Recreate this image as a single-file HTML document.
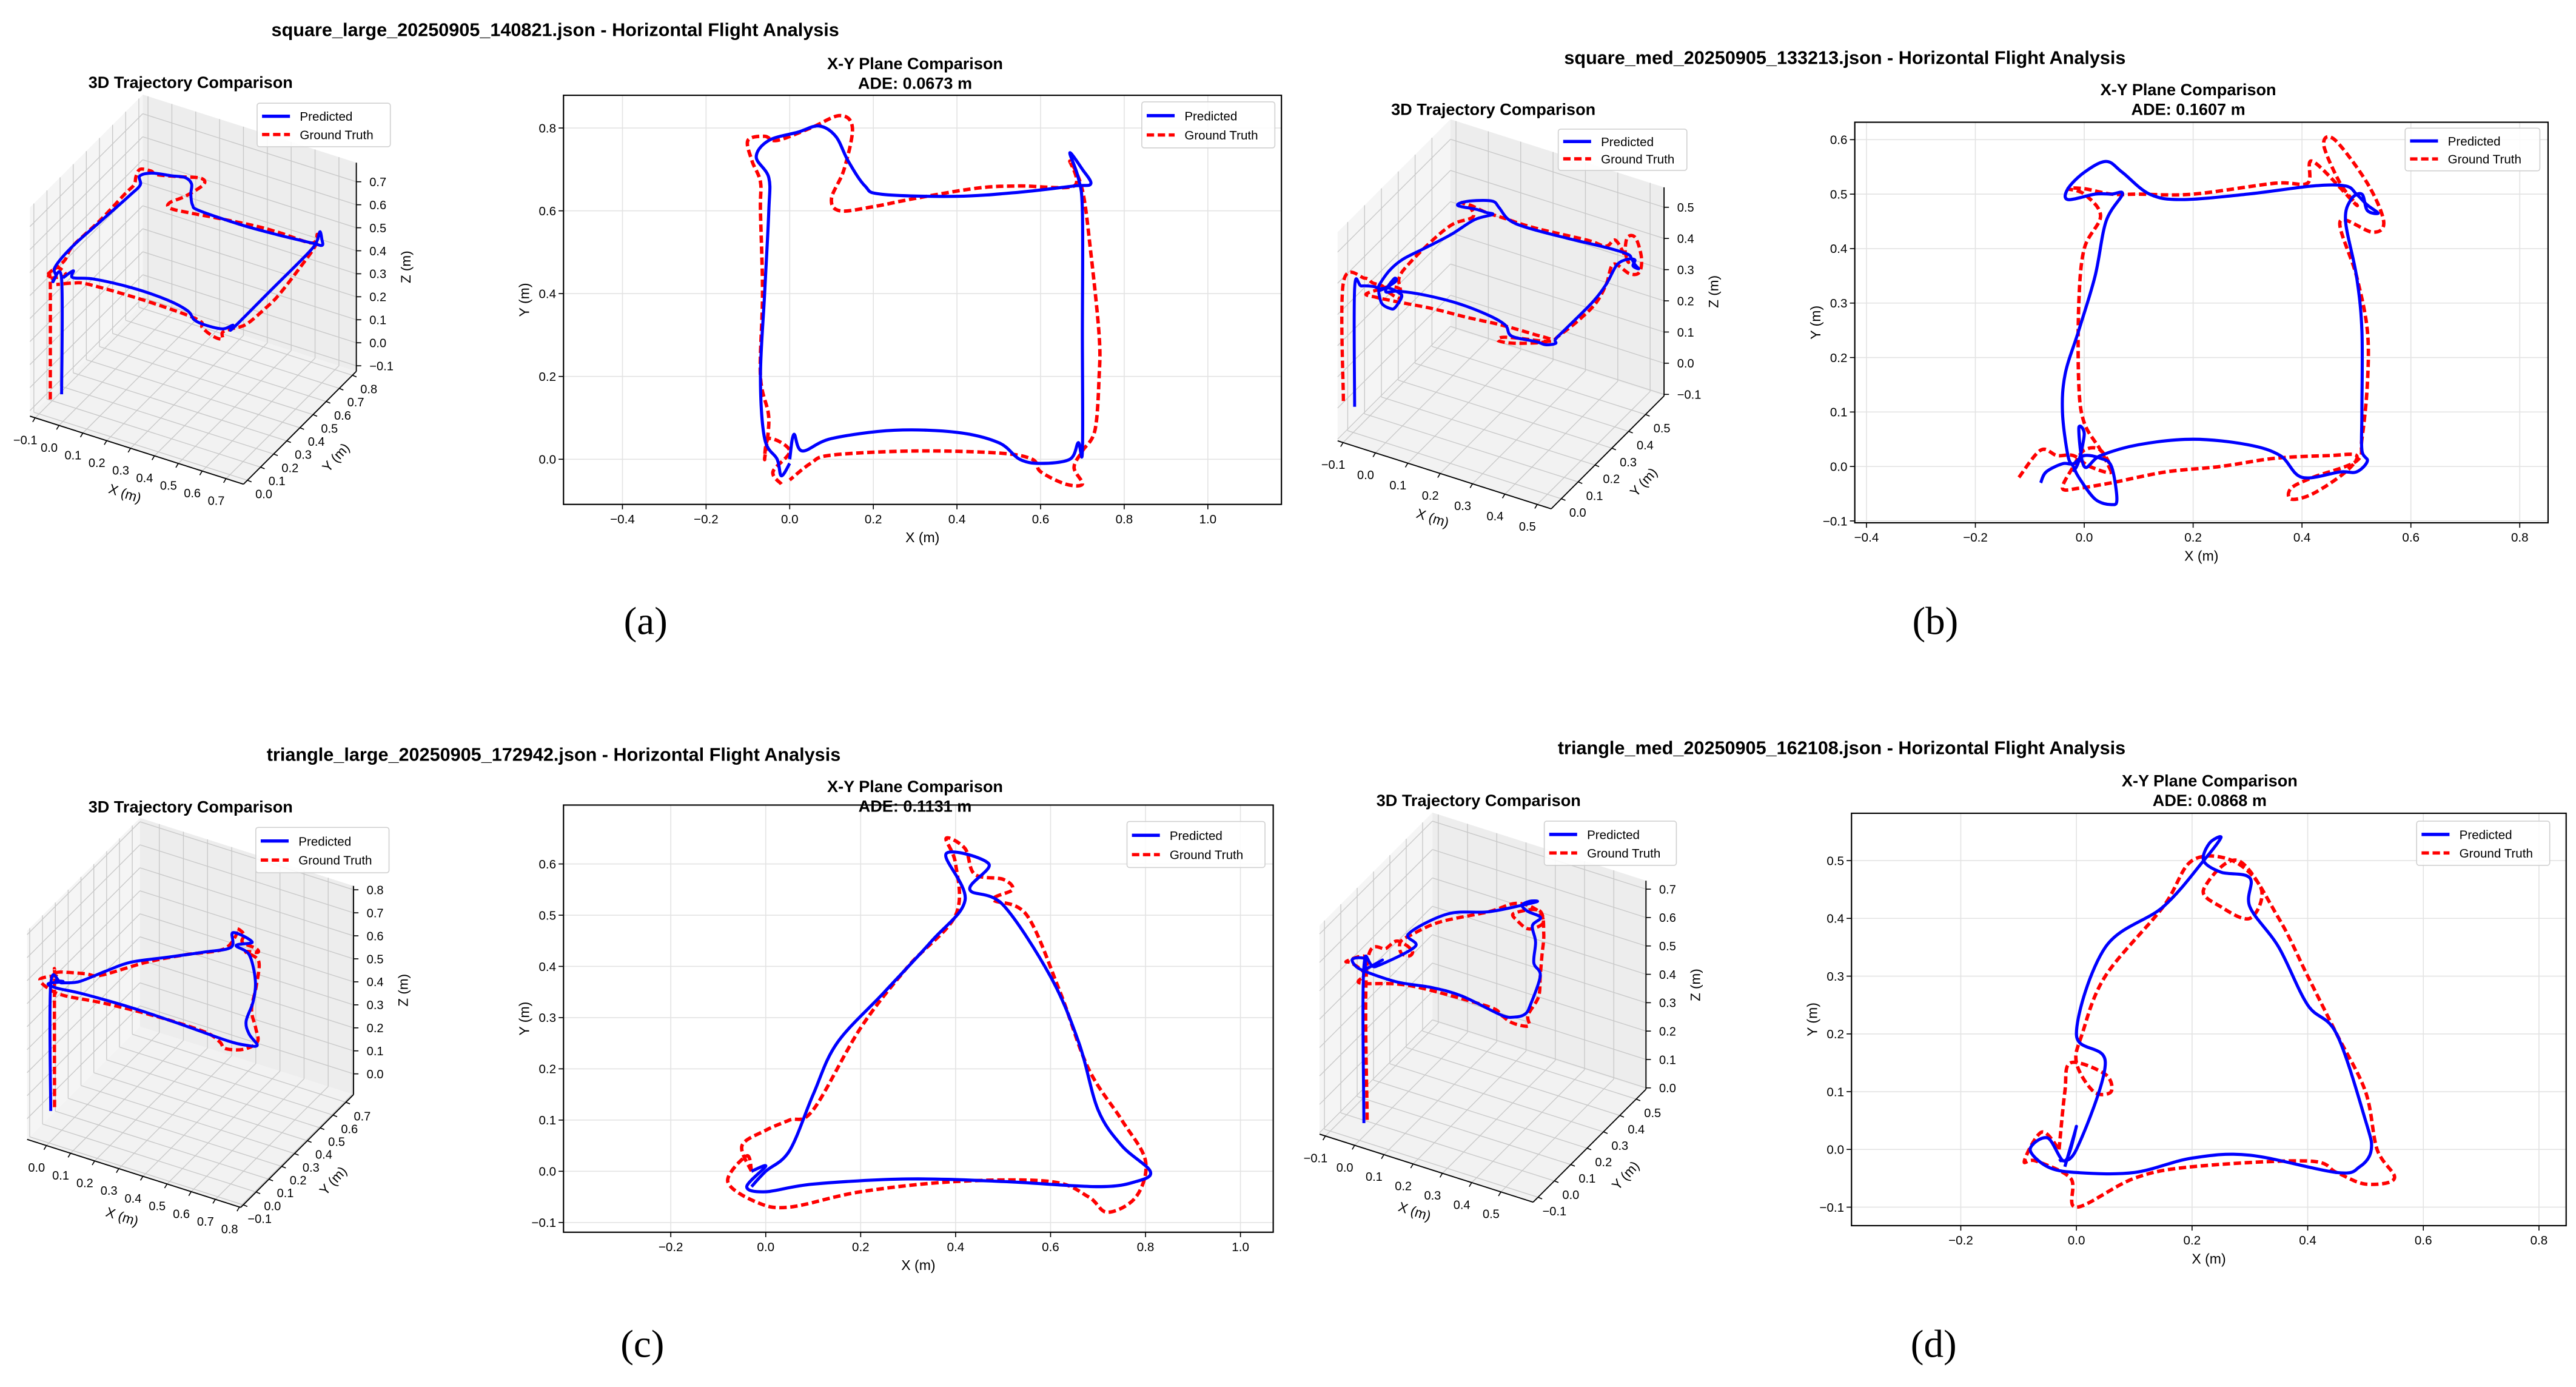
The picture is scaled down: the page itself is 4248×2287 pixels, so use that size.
<!DOCTYPE html>
<html><head><meta charset="utf-8"><style>
html,body{margin:0;padding:0;background:#fff;}
svg{display:block;}
text{font-family:"Liberation Sans",Arial,sans-serif;}
text.serif{font-family:"Liberation Serif",serif;}
</style></head><body>
<svg id="fig" xmlns="http://www.w3.org/2000/svg" width="4248" height="2287" viewBox="0 0 1568 844.2" preserveAspectRatio="none">
<rect x="0" y="0" width="1568" height="844.2" fill="#fff"/>
</svg>
<script>
// ---------- DATA (meters) ----------
const aPred = [[0.0,-0.01],[-0.02,-0.04],[-0.03,0.0],[-0.06,0.05],[-0.07,0.2],[-0.06,0.4],[-0.05,0.6],[-0.05,0.68],[-0.08,0.73],[-0.05,0.77],[0.02,0.79],[0.07,0.805],[0.11,0.78],[0.14,0.72],[0.18,0.66],[0.22,0.64],[0.4,0.635],[0.55,0.645],[0.68,0.66],[0.72,0.665],[0.7,0.7],[0.67,0.74],[0.69,0.68],[0.7,0.6],[0.7,0.3],[0.7,0.02],[0.69,0.04],[0.67,0.0],[0.6,-0.01],[0.55,0.0],[0.5,0.04],[0.4,0.065],[0.25,0.07],[0.1,0.05],[0.03,0.02],[0.01,0.06],[0.0,0.0]];
const aGt = [[-0.02,-0.06],[-0.04,-0.03],[0.0,0.02],[-0.05,0.05],[-0.06,0.0],[-0.05,0.1],[-0.07,0.2],[-0.065,0.4],[-0.07,0.6],[-0.07,0.67],[-0.09,0.72],[-0.1,0.77],[-0.06,0.78],[-0.03,0.77],[0.05,0.8],[0.12,0.83],[0.15,0.8],[0.13,0.7],[0.1,0.63],[0.12,0.6],[0.2,0.61],[0.3,0.63],[0.45,0.655],[0.55,0.66],[0.68,0.66],[0.67,0.72],[0.7,0.65],[0.72,0.5],[0.74,0.3],[0.74,0.2],[0.73,0.07],[0.7,0.02],[0.68,-0.02],[0.7,-0.06],[0.66,-0.06],[0.6,-0.03],[0.58,0.0],[0.5,0.015],[0.3,0.02],[0.1,0.01],[0.05,-0.01],[0.0,-0.05]];
const bPred = [[-0.08,-0.03],[-0.07,-0.01],[-0.04,0.005],[-0.02,0.005],[0.0,0.02],[0.03,0.015],[0.05,0.0],[0.06,-0.06],[0.05,-0.07],[0.02,-0.06],[-0.01,-0.02],[-0.02,0.0],[-0.03,0.02],[-0.04,0.1],[-0.035,0.17],[-0.01,0.25],[0.02,0.35],[0.04,0.45],[0.07,0.5],[0.05,0.5],[0.02,0.5],[-0.03,0.49],[-0.03,0.51],[0.0,0.54],[0.04,0.56],[0.07,0.54],[0.12,0.5],[0.18,0.49],[0.3,0.5],[0.42,0.515],[0.48,0.515],[0.5,0.5],[0.52,0.48],[0.54,0.465],[0.52,0.47],[0.51,0.5],[0.49,0.49],[0.48,0.45],[0.5,0.35],[0.51,0.25],[0.51,0.1],[0.51,0.03],[0.52,0.01],[0.5,-0.01],[0.47,-0.01],[0.4,-0.02],[0.36,0.02],[0.3,0.04],[0.2,0.05],[0.1,0.04],[0.03,0.02],[0.0,0.0],[-0.01,0.07],[0.0,0.06],[-0.01,0.01],[-0.02,-0.01]];
const bGt = [[-0.12,-0.02],[-0.08,0.03],[-0.05,0.02],[-0.02,0.02],[0.01,0.0],[0.05,-0.01],[0.03,0.03],[0.0,0.03],[-0.02,0.0],[-0.04,-0.04],[-0.01,-0.04],[0.05,-0.03],[0.15,-0.01],[0.25,0.0],[0.35,0.015],[0.45,0.02],[0.5,0.02],[0.48,-0.01],[0.42,-0.05],[0.38,-0.06],[0.38,-0.04],[0.42,-0.02],[0.5,0.01],[0.51,0.05],[0.52,0.15],[0.52,0.25],[0.5,0.35],[0.47,0.45],[0.53,0.43],[0.55,0.45],[0.52,0.52],[0.46,0.6],[0.44,0.59],[0.47,0.52],[0.5,0.48],[0.42,0.56],[0.41,0.52],[0.35,0.52],[0.2,0.5],[0.1,0.5],[0.05,0.5],[0.0,0.51],[-0.03,0.51],[0.0,0.5],[0.03,0.46],[0.0,0.4],[-0.01,0.3],[-0.01,0.15],[0.0,0.08],[0.03,0.03],[0.05,-0.01]];
const cPred = [[-0.03,-0.03],[0.0,0.0],[0.05,0.04],[0.1,0.15],[0.15,0.25],[0.25,0.35],[0.35,0.45],[0.42,0.53],[0.38,0.62],[0.47,0.6],[0.43,0.55],[0.5,0.52],[0.6,0.38],[0.66,0.25],[0.7,0.12],[0.75,0.05],[0.81,0.0],[0.78,-0.02],[0.7,-0.03],[0.5,-0.02],[0.3,-0.015],[0.1,-0.025],[0.0,-0.04],[-0.04,-0.03],[0.0,0.01],[-0.03,0.0]];
const cGt = [[-0.03,0.0],[-0.05,0.05],[0.0,0.08],[0.05,0.1],[0.1,0.12],[0.2,0.28],[0.3,0.4],[0.4,0.5],[0.4,0.6],[0.38,0.65],[0.42,0.63],[0.44,0.58],[0.5,0.57],[0.52,0.55],[0.48,0.53],[0.55,0.5],[0.62,0.35],[0.68,0.2],[0.75,0.1],[0.8,0.02],[0.78,-0.05],[0.72,-0.08],[0.68,-0.05],[0.6,-0.02],[0.4,-0.02],[0.2,-0.04],[0.05,-0.07],[-0.02,-0.06],[-0.08,-0.02],[-0.04,0.03],[-0.03,0.0]];
const dPred = [[-0.03,-0.02],[0.0,0.0],[0.05,0.15],[0.0,0.2],[0.05,0.35],[0.15,0.42],[0.22,0.5],[0.25,0.54],[0.23,0.53],[0.22,0.5],[0.25,0.48],[0.3,0.47],[0.3,0.42],[0.35,0.35],[0.4,0.25],[0.45,0.2],[0.5,0.05],[0.51,0.0],[0.49,-0.03],[0.45,-0.04],[0.3,-0.01],[0.2,-0.015],[0.1,-0.04],[0.0,-0.04],[-0.05,-0.03],[-0.08,0.0],[-0.05,0.02],[-0.02,-0.02],[0.0,0.04],[-0.02,-0.03]];
const dGt = [[-0.03,0.0],[-0.02,0.1],[-0.01,0.15],[0.05,0.13],[0.06,0.1],[0.03,0.1],[0.0,0.15],[0.01,0.2],[0.05,0.3],[0.15,0.42],[0.2,0.5],[0.27,0.5],[0.32,0.45],[0.3,0.4],[0.25,0.42],[0.22,0.45],[0.28,0.5],[0.35,0.4],[0.4,0.3],[0.45,0.2],[0.5,0.1],[0.52,0.0],[0.55,-0.05],[0.5,-0.06],[0.45,-0.04],[0.4,-0.02],[0.2,-0.03],[0.1,-0.05],[0.0,-0.1],[-0.01,-0.05],[-0.07,-0.02],[-0.09,-0.02],[-0.06,0.03],[-0.03,0.0]];
// flight altitude used for 3D views (m)
const flightZ = [0.5, 0.38, 0.55, 0.55];
// tick labels
const aXTicks = [-0.4,-0.2,0.0,0.2,0.4,0.6,0.8,1.0];
const aYTicks = [0.0,0.2,0.4,0.6,0.8];
const bXTicks = [-0.4,-0.2,0.0,0.2,0.4,0.6,0.8];
const bYTicks = [-0.1,0.0,0.1,0.2,0.3,0.4,0.5,0.6];
const cXTicks = [-0.2,0.0,0.2,0.4,0.6,0.8,1.0];
const cYTicks = [-0.1,0.0,0.1,0.2,0.3,0.4,0.5,0.6];
const dXTicks = [-0.2,0.0,0.2,0.4,0.6,0.8];
const dYTicks = [-0.1,0.0,0.1,0.2,0.3,0.4,0.5];
const a3X = [-0.1,0.0,0.1,0.2,0.3,0.4,0.5,0.6,0.7];
const a3Y = [0.0,0.1,0.2,0.3,0.4,0.5,0.6,0.7,0.8];
const a3Z = [-0.1,0.0,0.1,0.2,0.3,0.4,0.5,0.6,0.7];
const b3X = [-0.1,0.0,0.1,0.2,0.3,0.4,0.5];
const b3Y = [0.0,0.1,0.2,0.3,0.4,0.5];
const b3Z = [-0.1,0.0,0.1,0.2,0.3,0.4,0.5];
const c3X = [0.0,0.1,0.2,0.3,0.4,0.5,0.6,0.7,0.8];
const c3Y = [-0.1,0.0,0.1,0.2,0.3,0.4,0.5,0.6,0.7];
const c3Z = [0.0,0.1,0.2,0.3,0.4,0.5,0.6,0.7,0.8];
const d3X = [-0.1,0.0,0.1,0.2,0.3,0.4,0.5];
const d3Y = [-0.1,0.0,0.1,0.2,0.3,0.4,0.5];
const d3Z = [0.0,0.1,0.2,0.3,0.4,0.5,0.6,0.7];
const titles = ["square_large_20250905_140821.json - Horizontal Flight Analysis","square_med_20250905_133213.json - Horizontal Flight Analysis","triangle_large_20250905_172942.json - Horizontal Flight Analysis","triangle_med_20250905_162108.json - Horizontal Flight Analysis"];
const ades = ["ADE: 0.0673 m","ADE: 0.1607 m","ADE: 0.1131 m","ADE: 0.0868 m"];
const subLabels = ["(a)","(b)","(c)","(d)"];

// ---------- helpers ----------
const NS='http://www.w3.org/2000/svg';
const svg=document.getElementById('fig');
function mk(tag,parent,attrs){const e=document.createElementNS(NS,tag);for(const k in attrs)e.setAttribute(k,attrs[k]);parent.appendChild(e);return e;}
function smooth(pts){
  let d='M'+pts[0][0].toFixed(2)+','+pts[0][1].toFixed(2);
  for(let i=0;i<pts.length-1;i++){
    const p0=pts[i-1]||pts[i],p1=pts[i],p2=pts[i+1],p3=pts[i+2]||pts[i+1];
    const c1=[p1[0]+(p2[0]-p0[0])/6,p1[1]+(p2[1]-p0[1])/6];
    const c2=[p2[0]-(p3[0]-p1[0])/6,p2[1]-(p3[1]-p1[1])/6];
    d+='C'+c1[0].toFixed(2)+','+c1[1].toFixed(2)+' '+c2[0].toFixed(2)+','+c2[1].toFixed(2)+' '+p2[0].toFixed(2)+','+p2[1].toFixed(2);
  }
  return d;
}
function fmt(v){return (v<0?'\u2212':'')+Math.abs(v).toFixed(1);}
function txt(parent,x,y,s,size,anchor,weight,extra){
  const t=mk('text',parent,Object.assign({x:x,y:y,'font-size':size,'text-anchor':anchor||'middle','font-weight':weight||'normal',fill:'#000'},extra||{}));
  t.textContent=s;return t;
}
function legend(parent,x0,y0,x1,y1){
  const g=mk('g',parent,{});
  
  
  const r=mk('rect',g,{x:x0,y:y0,width:x1-x0,height:y1-y0,rx:1.5,fill:'#fff','fill-opacity':0.85,stroke:'#d0d0d0','stroke-width':0.6});
  
  
  const h=y1-y0;
  const l1=mk('line',g,{x1:x0+3,x2:x0+20,y1:y0+h*0.3,y2:y0+h*0.3,stroke:'#0000ff','stroke-width':2});
  
  
  const t1=txt(g,x0+26,y0+h*0.3+2.8,'Predicted',7.6,'start');
  
  
  const l2=mk('line',g,{x1:x0+3,x2:x0+20,y1:y0+h*0.72,y2:y0+h*0.72,stroke:'#ff0000','stroke-width':2,'stroke-dasharray':'4.5 2.2'});
  
  
  const t2=txt(g,x0+26,y0+h*0.72+2.8,'Ground Truth',7.6,'start');
  
  
}

// ---------- X-Y plane panels ----------
function drawXY(p,pred,gt,xt,yt,key){
  const g=mk('g',svg,{});
  
  
  const sx=v=>p.x0+(v-p.xmin)/(p.xmax-p.xmin)*(p.x1-p.x0);
  const sy=v=>p.y1-(v-p.ymin)/(p.ymax-p.ymin)*(p.y1-p.y0);
  xt.forEach(v=>{
    const gl=mk('line',g,{x1:sx(v),x2:sx(v),y1:p.y0,y2:p.y1,stroke:'#e3e3e3','stroke-width':0.6});
    
    
    const tk=mk('line',g,{x1:sx(v),x2:sx(v),y1:p.y1,y2:p.y1+3,stroke:'#000','stroke-width':0.6});
    
    
    const tl=txt(g,sx(v),p.y1+11.5,fmt(v),7.6);
    
    
  });
  yt.forEach(v=>{
    const gl=mk('line',g,{x1:p.x0,x2:p.x1,y1:sy(v),y2:sy(v),stroke:'#e3e3e3','stroke-width':0.6});
    
    
    const tk=mk('line',g,{x1:p.x0-3,x2:p.x0,y1:sy(v),y2:sy(v),stroke:'#000','stroke-width':0.6});
    
    
    const tl=txt(g,p.x0-4.5,sy(v)+2.7,fmt(v),7.6,'end');
    
    
  });
  const cp=mk('clipPath',g,{id:'clip-'+key});
  mk('rect',cp,{x:p.x0,y:p.y0,width:p.x1-p.x0,height:p.y1-p.y0});
  const gtPath=mk('path',g,{d:smooth(gt.map(q=>[sx(q[0]),sy(q[1])])),fill:'none',stroke:'#ff0000','stroke-width':2.1,'stroke-dasharray':'4.5 2.2','stroke-linejoin':'round','clip-path':'url(#clip-'+key+')'});
  
  
  const prPath=mk('path',g,{d:smooth(pred.map(q=>[sx(q[0]),sy(q[1])])),fill:'none',stroke:'#0000ff','stroke-width':1.9,'stroke-linejoin':'round','clip-path':'url(#clip-'+key+')'});
  
  
  const fr=mk('rect',g,{x:p.x0,y:p.y0,width:p.x1-p.x0,height:p.y1-p.y0,fill:'none',stroke:'#000','stroke-width':0.8});
  
  
  const xl=txt(g,(p.x0+p.x1)/2,p.y1+23,'X (m)',8.5);
  
  
  const yl=txt(g,0,0,'Y (m)',8.5,'middle','normal',{transform:'translate('+(p.x0-21)+','+((p.y0+p.y1)/2)+') rotate(-90)'});
  
  
  const t1=txt(g,p.tx,p.ty,'X-Y Plane Comparison',10,'middle','bold');
  
  
  const t2=txt(g,p.tx,p.ty+12,p.ade,10,'middle','bold');
  
  
  legend(g,p.lx0,p.ly0,p.lx1,p.ly1);
}

// ---------- 3D panels ----------
function draw3D(p,pred,gt,xt,yt,zt,zFly,key){
  const g=mk('g',svg,{});
  
  
  const L=[18.2+p.dx,253.3+p.dy],F=[148.2+p.dx,294.7+p.dy],R=[216.9+p.dx,226+p.dy],H=[0,-127];
  const P=(x,y,z)=>{
    const fx=(x-p.xmin)/(p.xmax-p.xmin),fy=(y-p.ymin)/(p.ymax-p.ymin),fz=(z-p.zmin)/(p.zmax-p.zmin);
    return [L[0]+fx*(F[0]-L[0])+fy*(R[0]-F[0])+fz*H[0], L[1]+fx*(F[1]-L[1])+fy*(R[1]-F[1])+fz*H[1]];
  };
  const poly=(pts,fill,name)=>{const e=mk('polygon',g,{points:pts.map(q=>q[0].toFixed(2)+','+q[1].toFixed(2)).join(' '),fill:fill,stroke:'none'});
    
    };
  const {xmin,xmax,ymin,ymax,zmin,zmax}=p;
  poly([P(xmin,ymin,zmin),P(xmax,ymin,zmin),P(xmax,ymax,zmin),P(xmin,ymax,zmin)],'#f2f2f2','floor-pane');
  poly([P(xmin,ymin,zmin),P(xmin,ymax,zmin),P(xmin,ymax,zmax),P(xmin,ymin,zmax)],'#f5f5f5','left-pane');
  poly([P(xmin,ymax,zmin),P(xmax,ymax,zmin),P(xmax,ymax,zmax),P(xmin,ymax,zmax)],'#ededed','back-pane');
  const ln=(a,b,c,w,name)=>{const e=mk('line',g,{x1:a[0],y1:a[1],x2:b[0],y2:b[1],stroke:c,'stroke-width':w});
    
    };
  const gc='#c8c8c8';
  xt.forEach(v=>{ln(P(v,ymin,zmin),P(v,ymax,zmin),gc,0.5,'grid-line');ln(P(v,ymax,zmin),P(v,ymax,zmax),gc,0.5,'grid-line');});
  yt.forEach(v=>{ln(P(xmin,v,zmin),P(xmax,v,zmin),gc,0.5,'grid-line');ln(P(xmin,v,zmin),P(xmin,v,zmax),gc,0.5,'grid-line');});
  zt.forEach(v=>{ln(P(xmin,ymin,v),P(xmin,ymax,v),gc,0.5,'grid-line');ln(P(xmin,ymax,v),P(xmax,ymax,v),gc,0.5,'grid-line');});
  ln(P(xmin,ymin,zmin),P(xmax,ymin,zmin),'#000',0.7,'x-axis-line');
  ln(P(xmax,ymin,zmin),P(xmax,ymax,zmin),'#000',0.7,'y-axis-line');
  ln(P(xmax,ymax,zmin),P(xmax,ymax,zmax),'#000',0.7,'z-axis-line');
  xt.forEach(v=>{const a=P(v,ymin,zmin);ln(a,[a[0]-1.5,a[1]+2.5],'#000',0.6,'x-tick');
    const t=txt(g,a[0]-6,a[1]+16,fmt(v),7.4);
    
    });
  yt.forEach(v=>{const a=P(xmax,v,zmin);ln(a,[a[0]+2.5,a[1]+1],'#000',0.6,'y-tick');
    const t=txt(g,a[0]+10,a[1]+11,fmt(v),7.4);
    
    });
  zt.forEach(v=>{const a=P(xmax,ymax,v);ln(a,[a[0]+3,a[1]],'#000',0.6,'z-tick');
    const t=txt(g,a[0]+8,a[1]+2.7,fmt(v),7.4,'start');
    
    });
  const xm=P((xmin+xmax)/2,ymin,zmin);
  const xl=txt(g,0,0,'X (m)',8.3,'middle','normal',{transform:'translate('+(xm[0]-8)+','+(xm[1]+29)+') rotate(18)'});
  
  
  const ym=P(xmax,(ymin+ymax)/2,zmin);
  const yl=txt(g,0,0,'Y (m)',8.3,'middle','normal',{transform:'translate('+(ym[0]+24)+','+(ym[1]+20)+') rotate(-48)'});
  
  
  const zm=P(xmax,ymax,(zmin+zmax)/2);
  const zl=txt(g,0,0,'Z (m)',8.3,'middle','normal',{transform:'translate('+(zm[0]+33)+','+zm[1]+') rotate(-90)'});
  
  
  const proj=arr=>[P(arr[0][0],arr[0][1],0)].concat(arr.map(q=>P(q[0],q[1],zFly)));
  const gp=mk('path',g,{d:smooth(proj(gt)),fill:'none',stroke:'#ff0000','stroke-width':2,'stroke-dasharray':'4.5 2.2','stroke-linejoin':'round'});
  
  
  const pp=mk('path',g,{d:smooth(proj(pred)),fill:'none',stroke:'#0000ff','stroke-width':1.8,'stroke-linejoin':'round'});
  
  
  const tt=txt(g,p.tx,p.ty,'3D Trajectory Comparison',10,'middle','bold');
  
  
  legend(g,p.lx0,p.ly0,p.lx1,p.ly1);
}

// ---------- layout ----------
const xyLayout=[
 {x0:343,x1:780,y0:58,y1:307,xmin:-0.541,xmax:1.176,ymin:-0.109,ymax:0.879,tx:557,ty:42,lx0:695,ly0:62,lx1:776,ly1:90},
 {x0:1129,x1:1551,y0:74.4,y1:318.2,xmin:-0.4215,xmax:0.852,ymin:-0.1034,ymax:0.632,tx:1332,ty:58,lx0:1464,ly0:78,lx1:1546,ly1:104},
 {x0:343,x1:775,y0:490,y1:750,xmin:-0.426,xmax:1.069,ymin:-0.119,ymax:0.715,tx:557,ty:482,lx0:686,ly0:500,lx1:770,ly1:528},
 {x0:1127,x1:1562,y0:495,y1:746,xmin:-0.389,xmax:0.847,ymin:-0.132,ymax:0.582,tx:1345,ty:478.5,lx0:1471,ly0:499.8,lx1:1552,ly1:526.7}
];
const l3=[
 {dx:0,dy:0,xmin:-0.122,xmax:0.773,ymin:-0.03,ymax:0.83,zmin:-0.124,zmax:0.783,tx:116,ty:53.5,lx0:156.5,ly0:62.8,lx1:237.6,ly1:89.3},
 {dx:796,dy:15,xmin:-0.117,xmax:0.543,ymin:-0.06,ymax:0.61,zmin:-0.105,zmax:0.564,tx:909,ty:70,lx0:948.5,ly0:78.6,lx1:1026.8,ly1:103.7},
 {dx:-1.7,dy:440.2,xmin:-0.08,xmax:0.805,ymin:-0.12,ymax:0.76,zmin:-0.09,zmax:0.817,tx:116,ty:494.5,lx0:155.7,ly0:503.6,lx1:236.8,ly1:531.2},
 {dx:785,dy:437,xmin:-0.12,xmax:0.61,ymin:-0.13,ymax:0.56,zmin:-0.005,zmax:0.73,tx:900,ty:490.5,lx0:940,ly0:499.8,lx1:1020.4,ly1:526.7}
];
const mainTitlePos=[[338,22],[1123,39],[337,463],[1121,459]];
const subLabelPos=[[393,386],[1178,386],[391,826],[1177,826]];
const preds=[aPred,bPred,cPred,dPred], gts=[aGt,bGt,cGt,dGt];
const xts=[aXTicks,bXTicks,cXTicks,dXTicks], yts=[aYTicks,bYTicks,cYTicks,dYTicks];
const x3=[a3X,b3X,c3X,d3X], y3=[a3Y,b3Y,c3Y,d3Y], z3=[a3Z,b3Z,c3Z,d3Z];
const keys=['a','b','c','d'];
for(let i=0;i<4;i++){
  const mt=txt(svg,mainTitlePos[i][0],mainTitlePos[i][1],titles[i],11.3,'middle','bold');
  
  
  draw3D(l3[i],preds[i],gts[i],x3[i],y3[i],z3[i],flightZ[i],keys[i]);
  xyLayout[i].ade=ades[i];
  drawXY(xyLayout[i],preds[i],gts[i],xts[i],yts[i],keys[i]);
  const sl=txt(svg,subLabelPos[i][0],subLabelPos[i][1],subLabels[i],24,'middle','normal',{'class':'serif'});
  
  
}
</script>
</body></html>
